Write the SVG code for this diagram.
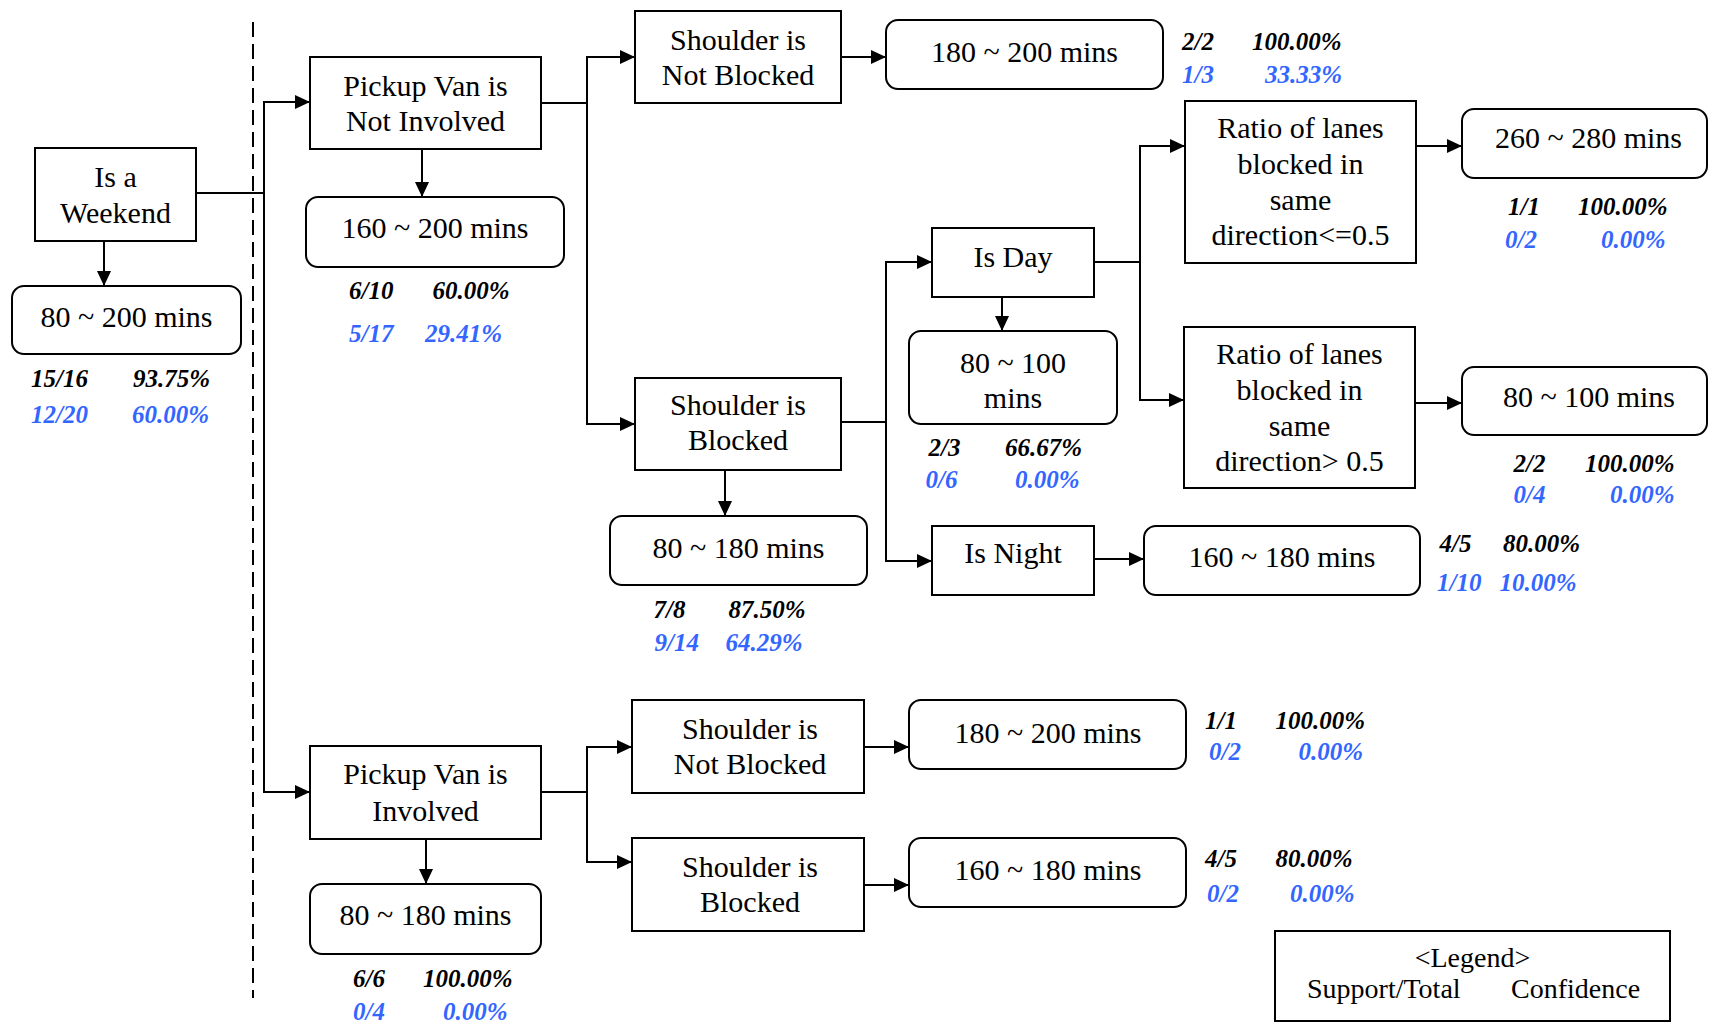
<svg xmlns="http://www.w3.org/2000/svg" width="1709" height="1023" viewBox="0 0 1709 1023">
  <style>
    .box { fill: #ffffff; stroke: #000000; stroke-width: 2; }
    .lbl { font-family: "Liberation Serif", "Times New Roman", serif; font-size: 30px; fill: #000000; text-anchor: middle; }
    .st { font-family: "Liberation Serif", "Times New Roman", serif; font-size: 25px; font-style: italic; font-weight: bold; }
    .sup { fill: #000000; }
    .val { fill: #3366ff; }
    .leg { font-family: "Liberation Serif", "Times New Roman", serif; font-size: 28px; fill: #000000; }
    .wire { fill: none; stroke: #000000; stroke-width: 2; }
    .arr { fill: none; stroke: #000000; stroke-width: 2; marker-end: url(#head); }
    .split { fill: none; stroke: #000000; stroke-width: 2; stroke-dasharray: 15 7; }
  </style>
  <defs>
    <marker id="head" viewBox="0 0 15 14" refX="15" refY="7" markerWidth="15" markerHeight="14" markerUnits="userSpaceOnUse" orient="auto">
      <path d="M0,0 L15,7 L0,14 z" fill="#000000"/>
    </marker>
  </defs>
  <rect width="1709" height="1023" fill="#ffffff"/>

  <!-- divider between the root and the branches -->
  <line class="split" x1="253" y1="22" x2="253" y2="998"/>

  <g id="connectors">
    <!-- root -->
    <line class="wire" x1="196" y1="193" x2="264" y2="193"/>
    <line class="wire" x1="264" y1="101" x2="264" y2="793"/>
    <line class="arr" x1="263" y1="102" x2="310" y2="102"/>
    <line class="arr" x1="263" y1="792" x2="310" y2="792"/>
    <line class="arr" x1="104" y1="241" x2="104" y2="286"/>
    <!-- pickup van not involved -->
    <line class="arr" x1="422" y1="149" x2="422" y2="197"/>
    <line class="wire" x1="541" y1="103" x2="587" y2="103"/>
    <line class="wire" x1="587" y1="56" x2="587" y2="425"/>
    <line class="arr" x1="586" y1="57" x2="635" y2="57"/>
    <line class="arr" x1="586" y1="424" x2="635" y2="424"/>
    <line class="arr" x1="841" y1="57" x2="886" y2="57"/>
    <!-- shoulder blocked -->
    <line class="arr" x1="725" y1="470" x2="725" y2="516"/>
    <line class="wire" x1="841" y1="422" x2="886" y2="422"/>
    <line class="wire" x1="886" y1="261" x2="886" y2="562"/>
    <line class="arr" x1="885" y1="262" x2="932" y2="262"/>
    <line class="arr" x1="885" y1="561" x2="932" y2="561"/>
    <!-- is day -->
    <line class="arr" x1="1002" y1="297" x2="1002" y2="331"/>
    <line class="wire" x1="1094" y1="262" x2="1140" y2="262"/>
    <line class="wire" x1="1140" y1="145" x2="1140" y2="401"/>
    <line class="arr" x1="1139" y1="146" x2="1185" y2="146"/>
    <line class="arr" x1="1139" y1="400" x2="1184" y2="400"/>
    <line class="arr" x1="1416" y1="146" x2="1462" y2="146"/>
    <line class="arr" x1="1415" y1="403" x2="1462" y2="403"/>
    <!-- is night -->
    <line class="arr" x1="1094" y1="559" x2="1144" y2="559"/>
    <!-- pickup van involved -->
    <line class="arr" x1="426" y1="839" x2="426" y2="884"/>
    <line class="wire" x1="541" y1="792" x2="587" y2="792"/>
    <line class="wire" x1="587" y1="746" x2="587" y2="863"/>
    <line class="arr" x1="586" y1="747" x2="632" y2="747"/>
    <line class="arr" x1="586" y1="862" x2="632" y2="862"/>
    <line class="arr" x1="864" y1="747" x2="909" y2="747"/>
    <line class="arr" x1="864" y1="885" x2="909" y2="885"/>
  </g>

  <g id="weekend">
    <rect class="box" x="35" y="148" width="161" height="93"/>
    <text class="lbl" x="115.5" y="187">Is a</text>
    <text class="lbl" x="115.5" y="223">Weekend</text>
  </g>
  <g id="leaf-weekend">
    <rect class="box" x="12" y="286" width="229" height="68" rx="12"/>
    <text class="lbl" x="126.5" y="327">80 ~ 200 mins</text>
    <text class="st sup" x="31" y="387">15/16</text>
    <text class="st sup" x="133" y="387">93.75%</text>
    <text class="st val" x="31" y="423">12/20</text>
    <text class="st val" x="132" y="423">60.00%</text>
  </g>

  <g id="van-not-involved">
    <rect class="box" x="310" y="57" width="231" height="92"/>
    <text class="lbl" x="425.5" y="96">Pickup Van is</text>
    <text class="lbl" x="425.5" y="131">Not Involved</text>
  </g>
  <g id="leaf-van-not-involved">
    <rect class="box" x="306" y="197" width="258" height="70" rx="12"/>
    <text class="lbl" x="435" y="238">160 ~ 200 mins</text>
    <text class="st sup" x="349" y="299">6/10</text>
    <text class="st sup" x="432.5" y="299">60.00%</text>
    <text class="st val" x="349" y="342">5/17</text>
    <text class="st val" x="425" y="342">29.41%</text>
  </g>

  <g id="shoulder-clear-a">
    <rect class="box" x="635" y="11" width="206" height="92"/>
    <text class="lbl" x="738" y="50">Shoulder is</text>
    <text class="lbl" x="738" y="85">Not Blocked</text>
  </g>
  <g id="leaf-shoulder-clear-a">
    <rect class="box" x="886" y="20" width="277" height="69" rx="12"/>
    <text class="lbl" x="1024.5" y="62">180 ~ 200 mins</text>
    <text class="st sup" x="1182" y="50">2/2</text>
    <text class="st sup" x="1252" y="50">100.00%</text>
    <text class="st val" x="1182" y="83">1/3</text>
    <text class="st val" x="1265" y="83">33.33%</text>
  </g>

  <g id="shoulder-blocked-a">
    <rect class="box" x="635" y="378" width="206" height="92"/>
    <text class="lbl" x="738" y="415">Shoulder is</text>
    <text class="lbl" x="738" y="450">Blocked</text>
  </g>
  <g id="leaf-shoulder-blocked-a">
    <rect class="box" x="610" y="516" width="257" height="69" rx="12"/>
    <text class="lbl" x="738.5" y="558">80 ~ 180 mins</text>
    <text class="st sup" x="653.5" y="618">7/8</text>
    <text class="st sup" x="728.5" y="618">87.50%</text>
    <text class="st val" x="654.5" y="651">9/14</text>
    <text class="st val" x="725.5" y="651">64.29%</text>
  </g>

  <g id="is-day">
    <rect class="box" x="932" y="228" width="162" height="69"/>
    <text class="lbl" x="1013" y="267">Is Day</text>
  </g>
  <g id="leaf-is-day">
    <rect class="box" x="909" y="331" width="208" height="93" rx="12"/>
    <text class="lbl" x="1013" y="373">80 ~ 100</text>
    <text class="lbl" x="1013" y="408">mins</text>
    <text class="st sup" x="928.5" y="456">2/3</text>
    <text class="st sup" x="1005" y="456">66.67%</text>
    <text class="st val" x="925.5" y="488">0/6</text>
    <text class="st val" x="1015" y="488">0.00%</text>
  </g>

  <g id="is-night">
    <rect class="box" x="932" y="526" width="162" height="69"/>
    <text class="lbl" x="1013" y="563">Is Night</text>
  </g>
  <g id="leaf-is-night">
    <rect class="box" x="1144" y="526" width="276" height="69" rx="12"/>
    <text class="lbl" x="1282" y="567">160 ~ 180 mins</text>
    <text class="st sup" x="1439.5" y="552">4/5</text>
    <text class="st sup" x="1503" y="552">80.00%</text>
    <text class="st val" x="1437" y="591">1/10</text>
    <text class="st val" x="1499.5" y="591">10.00%</text>
  </g>

  <g id="lane-ratio-low">
    <rect class="box" x="1185" y="101" width="231" height="162"/>
    <text class="lbl" x="1300.5" y="138">Ratio of lanes</text>
    <text class="lbl" x="1300.5" y="174">blocked in</text>
    <text class="lbl" x="1300.5" y="210">same</text>
    <text class="lbl" x="1300.5" y="245">direction&lt;=0.5</text>
  </g>
  <g id="leaf-lane-ratio-low">
    <rect class="box" x="1462" y="109" width="245" height="69" rx="12"/>
    <text class="lbl" x="1588.5" y="148">260 ~ 280 mins</text>
    <text class="st sup" x="1508" y="215">1/1</text>
    <text class="st sup" x="1578" y="215">100.00%</text>
    <text class="st val" x="1505" y="248">0/2</text>
    <text class="st val" x="1601" y="248">0.00%</text>
  </g>

  <g id="lane-ratio-high">
    <rect class="box" x="1184" y="327" width="231" height="161"/>
    <text class="lbl" x="1299.5" y="364">Ratio of lanes</text>
    <text class="lbl" x="1299.5" y="400">blocked in</text>
    <text class="lbl" x="1299.5" y="436">same</text>
    <text class="lbl" x="1299.5" y="471">direction&gt; 0.5</text>
  </g>
  <g id="leaf-lane-ratio-high">
    <rect class="box" x="1462" y="367" width="245" height="68" rx="12"/>
    <text class="lbl" x="1589" y="407">80 ~ 100 mins</text>
    <text class="st sup" x="1513.5" y="472">2/2</text>
    <text class="st sup" x="1585" y="472">100.00%</text>
    <text class="st val" x="1513.5" y="503">0/4</text>
    <text class="st val" x="1610" y="503">0.00%</text>
  </g>

  <g id="van-involved">
    <rect class="box" x="310" y="746" width="231" height="93"/>
    <text class="lbl" x="425.5" y="784">Pickup Van is</text>
    <text class="lbl" x="425.5" y="821">Involved</text>
  </g>
  <g id="leaf-van-involved">
    <rect class="box" x="310" y="884" width="231" height="70" rx="12"/>
    <text class="lbl" x="425.5" y="925">80 ~ 180 mins</text>
    <text class="st sup" x="353" y="986.5">6/6</text>
    <text class="st sup" x="423" y="986.5">100.00%</text>
    <text class="st val" x="353" y="1020">0/4</text>
    <text class="st val" x="443" y="1020">0.00%</text>
  </g>

  <g id="shoulder-clear-b">
    <rect class="box" x="632" y="700" width="232" height="93"/>
    <text class="lbl" x="750" y="739">Shoulder is</text>
    <text class="lbl" x="750" y="774">Not Blocked</text>
  </g>
  <g id="leaf-shoulder-clear-b">
    <rect class="box" x="909" y="700" width="277" height="69" rx="12"/>
    <text class="lbl" x="1048" y="742.5">180 ~ 200 mins</text>
    <text class="st sup" x="1205" y="728.5">1/1</text>
    <text class="st sup" x="1275.5" y="728.5">100.00%</text>
    <text class="st val" x="1209" y="760">0/2</text>
    <text class="st val" x="1298.5" y="760">0.00%</text>
  </g>

  <g id="shoulder-blocked-b">
    <rect class="box" x="632" y="838" width="232" height="93"/>
    <text class="lbl" x="750" y="877">Shoulder is</text>
    <text class="lbl" x="750" y="912">Blocked</text>
  </g>
  <g id="leaf-shoulder-blocked-b">
    <rect class="box" x="909" y="838" width="277" height="69" rx="12"/>
    <text class="lbl" x="1048" y="879.5">160 ~ 180 mins</text>
    <text class="st sup" x="1205" y="866.5">4/5</text>
    <text class="st sup" x="1275.5" y="866.5">80.00%</text>
    <text class="st val" x="1207" y="901.5">0/2</text>
    <text class="st val" x="1290" y="901.5">0.00%</text>
  </g>

  <g id="legend">
    <rect class="box" x="1275" y="931" width="395" height="90"/>
    <text class="leg" x="1472.5" y="967" text-anchor="middle">&lt;Legend&gt;</text>
    <text class="leg" x="1307" y="998">Support/Total</text>
    <text class="leg" x="1511" y="998">Confidence</text>
  </g>
</svg>
